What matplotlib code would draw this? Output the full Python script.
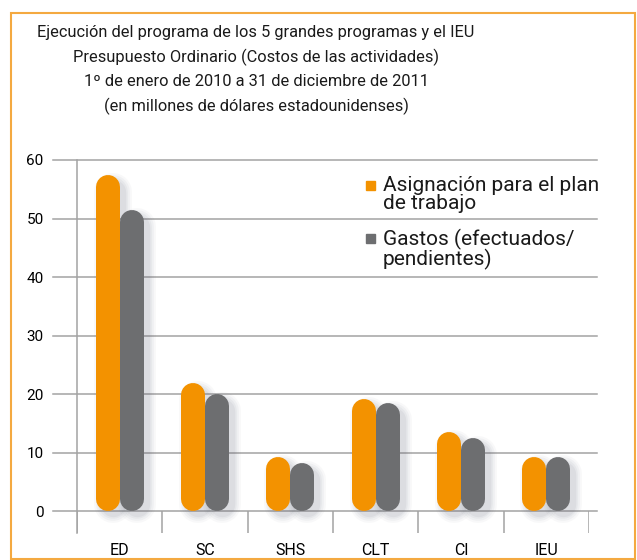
import numpy as np
import matplotlib
matplotlib.use('Agg')
import matplotlib.pyplot as plt
from matplotlib import rcParams
import matplotlib.transforms as mtransforms
from matplotlib.patches import Rectangle

# data
categories = ['ED', 'SC', 'SHS', 'CLT', 'CI', 'IEU']
asignacion = [57.4, 21.9, 9.2, 19.1, 13.5, 9.2]
gastos = [51.5, 20.0, 8.2, 18.5, 12.5, 9.2]
yticks = [0, 10, 20, 30, 40, 50, 60]
title_lines = ['Ejecución del programa de los 5 grandes programas y el IEU',
               'Presupuesto Ordinario (Costos de las actividades)',
               '1º de enero de 2010 a 31 de diciembre de 2011',
               '(en millones de dólares estadounidenses)']
legend_labels = ['Asignación para el plan\nde trabajo',
                 'Gastos (efectuados/\npendientes)']

orange = '#F39200'
gray = '#6D6E70'
gridc = '#A3A3A3'
framec = '#F4A940'

rcParams['font.family'] = ['Roboto', 'DejaVu Sans']
rcParams['text.color'] = '#1A1A1A'

W, H = 637, 560
fig = plt.figure(figsize=(W / 100, H / 100), dpi=100)
ax = fig.add_axes([77 / W, 27 / H, 512 / W, 373 / H])
ymin, ymax = -3.76, 60
ax.set_xlim(-0.5, 5.5)
ax.set_ylim(ymin, ymax)

px_y = ax.bbox.height / (ymax - ymin)   # pixels per unit
px_x = ax.bbox.width / 6.0
bw = 24                                 # bar width in pixels
r = (bw / 2) / px_y                     # cap radius in data units
lw = bw * 72 / 100
off = bw / 2 / px_x

x = np.arange(len(categories))

# grid lines, a bit wider than the axes
for yv in yticks:
    ax.plot([-0.5 - 24 / px_x, 5.5 + 8 / px_x], [yv, yv], color=gridc,
            lw=1.1, clip_on=False, zorder=1)
ax.vlines(np.arange(7) - 0.5, ymin, 0, color=gridc, lw=1.1, zorder=1)

# soft shadows
for k, a in enumerate([0.04, 0.05, 0.06, 0.07]):
    sh = mtransforms.offset_copy(ax.transData, fig=fig, x=5, y=-5, units='dots')
    for xi, v1, v2 in zip(x, asignacion, gastos):
        for xc, v in ((xi - off, v1), (xi + off, v2)):
            ax.plot([xc, xc], [r, v - r], color='#5A6070', alpha=a,
                    lw=lw + 10 - 3 * k, solid_capstyle='round',
                    transform=sh, zorder=2)

for xi, v1, v2 in zip(x, asignacion, gastos):
    ax.plot([xi - off, xi - off], [r, v1 - r], color=orange, lw=lw,
            solid_capstyle='round', zorder=3)
    ax.plot([xi + off, xi + off], [r, v2 - r], color=gray, lw=lw,
            solid_capstyle='round', zorder=3)

for s in ['top', 'right', 'bottom']:
    ax.spines[s].set_visible(False)
ax.spines['left'].set_color(gridc)
ax.spines['left'].set_linewidth(1.1)

ax.set_yticks(yticks)
ax.set_xticks(x)
ax.set_xticklabels(categories)
ax.tick_params(axis='y', length=0, pad=24, labelsize=11)
ax.tick_params(axis='x', length=0, pad=7, labelsize=11.5)

# title
for i, t in enumerate(title_lines):
    fig.text(256 / W, 1 - (33 + 24.5 * i) / H, t, ha='center', va='center',
             fontsize=11.8)

# legend
for i, (lab, c) in enumerate(zip(legend_labels, [orange, gray])):
    ytop = [181, 234][i]
    fig.patches.append(Rectangle((366 / W, 1 - (ytop + 9) / H), 9 / W, 9 / H,
                                 transform=fig.transFigure, color=c))
    fig.text(383 / W, 1 - (ytop - 5) / H, lab, ha='left', va='top',
             fontsize=15, linespacing=0.92)

# orange frame
fig.patches.append(Rectangle((11 / W, 1 / H), 624 / W, 1 - 14 / H,
                             transform=fig.transFigure, fill=False,
                             edgecolor=framec, lw=1.5))

fig.savefig('out.png', dpi=100)
